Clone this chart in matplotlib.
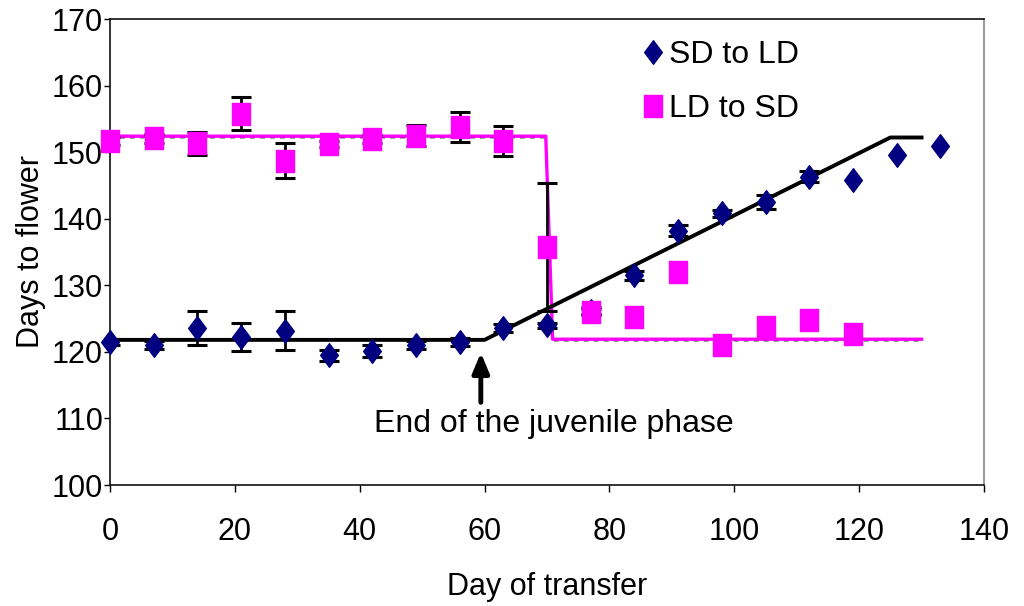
import matplotlib
matplotlib.use("Agg")
import matplotlib.pyplot as plt
from matplotlib.path import Path

plt.rcParams['font.family'] = ['Liberation Sans', 'DejaVu Sans']

# SD to LD (diamonds)
sd_day = [0, 7, 14, 21, 28, 35, 42, 49, 56, 63, 70, 77, 84, 91, 98, 105, 112, 119, 126, 133]
sd_flower = [121.5, 121.0, 123.6, 122.3, 123.2, 119.5, 120.2, 121.0, 121.5, 123.6,
             124.0, 126.2, 131.5, 138.2, 140.8, 142.5, 146.3, 145.8, 149.6, 150.9]
sd_err = [0.5, 0.6, 2.5, 2.1, 2.9, 0.8, 0.9, 0.6, 0.6, 0.6,
          0.4, 0.5, 0.7, 0.8, 0.5, 1.1, 0.8, 0.0, 0.0, 0.0]

# LD to SD (squares)
ld_day = [0, 7, 14, 21, 28, 35, 42, 49, 56, 63, 70, 77, 84, 91, 98, 105, 112, 119]
ld_flower = [151.7, 152.1, 151.3, 155.8, 148.7, 151.2, 152.0, 152.5, 153.8, 151.7,
             135.8, 126.0, 125.2, 132.0, 121.1, 123.8, 124.8, 122.7]
ld_err = [0.6, 0.7, 1.7, 2.5, 2.6, 0.5, 0.6, 1.6, 2.3, 2.3,
          9.6, 0.5, 0.0, 0.0, 0.0, 0.0, 0.0, 0.0]

# fitted models
sd_fit_x = [0, 60, 125, 130]
sd_fit_y = [121.8, 121.8, 152.2, 152.2]
ld_fit_x = [0, 69.8, 70.9, 130]
ld_fit_y = [152.4, 152.4, 121.9, 121.9]

navy = '#000080'
pink = '#FF00FF'

diamond = Path([(0, -1), (0.75, 0), (0, 1), (-0.75, 0), (0, -1)],
               [Path.MOVETO, Path.LINETO, Path.LINETO, Path.LINETO, Path.CLOSEPOLY])
rect = Path([(-0.82, -1), (0.82, -1), (0.82, 1), (-0.82, 1), (-0.82, -1)],
            [Path.MOVETO, Path.LINETO, Path.LINETO, Path.LINETO, Path.CLOSEPOLY])

fig = plt.figure(figsize=(10.24, 6.06), dpi=100)
ax = fig.add_axes([110 / 1024, 121 / 606, 874 / 1024, 466 / 606])

ax.plot(ld_fit_x, [v - 0.2 for v in ld_fit_y], color='black', lw=1.2, ls=(0, (3, 3)), zorder=2)
ax.plot(ld_fit_x, ld_fit_y, color=pink, lw=2.4, zorder=2)
ax.plot(sd_fit_x, sd_fit_y, color='black', lw=2.8, zorder=2)


def draw_err(days, vals, errs):
    keep = [i for i, e in enumerate(errs) if e > 0]
    ax.errorbar([days[i] for i in keep], [vals[i] for i in keep],
                yerr=[errs[i] for i in keep], fmt='none', ecolor='black',
                elinewidth=2, capsize=7, capthick=2.2, zorder=2.5)


draw_err(sd_day, sd_flower, sd_err)
draw_err(ld_day, ld_flower, ld_err)

h_sd, = ax.plot(sd_day, sd_flower, ls='none', marker=diamond, ms=17,
                color=navy, mec=navy, label='SD to LD', zorder=3, clip_on=False)
h_ld, = ax.plot(ld_day, ld_flower, ls='none', marker=rect, ms=16.5,
                color=pink, mec=pink, label='LD to SD', zorder=3, clip_on=False)

ax.annotate('', xy=(59.4, 120.3), xytext=(59.4, 112.0),
            arrowprops=dict(arrowstyle='-|>,head_width=0.5,head_length=1.2',
                            color='black', lw=3.5))
ax.text(71.1, 108.0, 'End of the juvenile phase', ha='center', va='baseline', fontsize=23)

ax.set_xlim(0, 140)
ax.set_ylim(100, 170)
ax.set_xticks(range(0, 141, 20))
ax.set_yticks(range(100, 171, 10))
ax.tick_params(axis='x', labelsize=22, length=5, width=1, pad=18, direction='out')
ax.tick_params(axis='y', labelsize=22, length=4, width=1, pad=1, direction='out')

for s in ['left', 'bottom', 'top']:
    ax.spines[s].set_color('#111111')
    ax.spines[s].set_linewidth(1.2)
ax.spines['right'].set_color('#888888')
ax.spines['right'].set_linewidth(1.2)

ax.set_xlabel('Day of transfer', fontsize=22, labelpad=18)
ax.set_ylabel('Days to flower', fontsize=22, labelpad=4)

ax.legend(handles=[h_sd, h_ld], loc='upper left', bbox_to_anchor=(0.608, 0.955),
          frameon=False, fontsize=23, handlelength=0.7, handletextpad=0.15,
          labelspacing=0.75, borderpad=0, borderaxespad=0)

fig.savefig('out.png', dpi=100)
